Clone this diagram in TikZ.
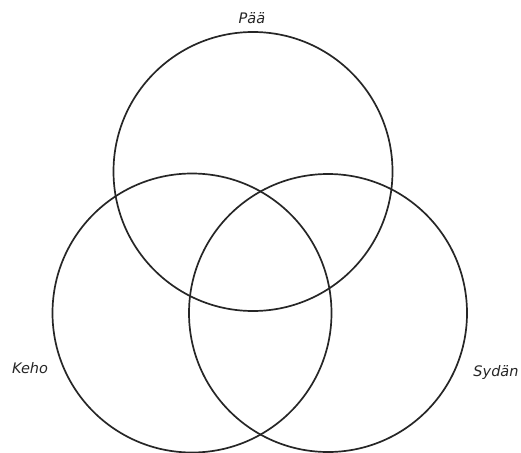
\documentclass[tikz,border=0pt]{standalone}
\usepackage{fontspec}
\setmainfont{DejaVu Sans}
\begin{document}
\begin{tikzpicture}[x=1pt,y=-1pt,
  ring/.style={circle,draw=black!85,line width=1.7pt,minimum size=279pt,inner sep=0pt},
  lbl/.style={font=\fontsize{14.5}{16}\selectfont\itshape,text=black!85,inner sep=0pt}]
\useasboundingbox (0,0) rectangle (521,452);
\node[ring] (paa) at (253,171.5) {};
\node[ring] (keho) at (192,313) {};
\node[ring,minimum size=278pt] (sydan) at (328,313) {};
\node[lbl] (tpaa) at (252,18) {Pää};
\node[lbl] (tkeho) at (30,368) {Keho};
\node[lbl] (tsydan) at (496,372) {Sydän};
\end{tikzpicture}
\end{document}
